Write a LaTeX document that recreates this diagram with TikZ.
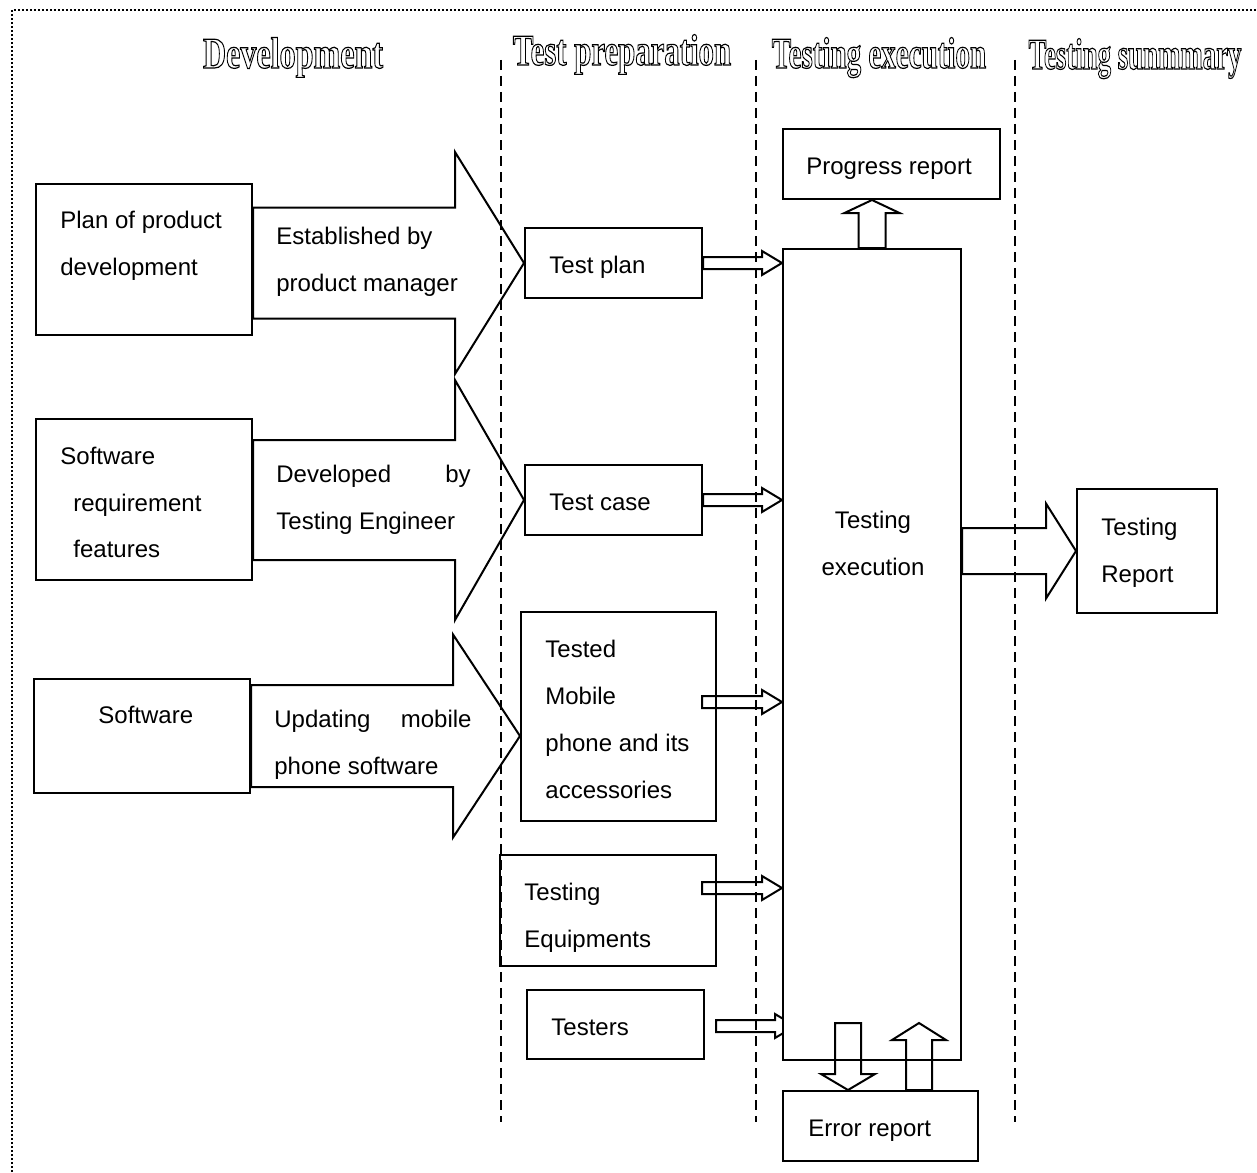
\documentclass[tikz,border=0pt]{standalone}
\usepackage{fontspec}
\setmainfont{Liberation Sans}
\newfontfamily\headfont{Liberation Serif Bold}
\usetikzlibrary{calc,fit}
\newcommand{\hd}[2]{\scalebox{#1}[1]{\special{pdf:literal direct 1 Tr 0.6 w}#2\special{pdf:literal direct 0 Tr}}}
% horizontal block arrow: start x from #2, tip #3, shaft half #4, head half #5, head length #6
\newcommand{\harrow}[6][]{%
  \draw[barrow,#1] let \p1=(#2), \p2=(#3) in
    (\x1,{\y2+#4}) -- ({\x2-#6},{\y2+#4}) -- ({\x2-#6},{\y2+#5}) -- (\x2,\y2)
    -- ({\x2-#6},{\y2-#5}) -- ({\x2-#6},{\y2-#4}) -- (\x1,{\y2-#4}) -- cycle;}
% vertical block arrow: start y from #2, tip #3
\newcommand{\varrow}[6][]{%
  \draw[barrow,#1] let \p1=(#2), \p2=(#3), \n1={sign(\y2-\y1)} in
    ({\x2+#4},\y1) -- ({\x2+#4},{\y2-\n1*#6}) -- ({\x2+#5},{\y2-\n1*#6}) -- (\x2,\y2)
    -- ({\x2-#5},{\y2-\n1*#6}) -- ({\x2-#4},{\y2-\n1*#6}) -- ({\x2-#4},\y1) -- cycle;}
\tikzset{
  box/.style={draw, line width=1pt, inner sep=0pt, rectangle},
  txt/.style={inner sep=0pt, font=\fontsize{12}{14}\selectfont, anchor=base west},
  txtc/.style={txt, anchor=base},
  txte/.style={txt, anchor=base east},
  head/.style={inner sep=0pt, anchor=base, font=\fontsize{22}{26}\headfont},
  lane/.style={line width=0.6pt, dash pattern=on 5pt off 3pt},
  frame/.style={line width=0.8pt, dash pattern=on 0.8pt off 1.2pt},
  barrow/.style={draw, line width=1pt, line join=miter},
}
\begin{document}
\begin{tikzpicture}[x=0.5pt,y=-0.5pt]
\useasboundingbox (0,0) rectangle (1257,1172);
\draw[frame] (12,1172) -- (12,10) -- (1257,10);
\foreach \x in {501,756,1015} \draw[lane] (\x,60) -- (\x,1122);

% headers
\node[head] (hdev) at (293,68) {\hd{0.73}{Development}};
\node[head] (hprep) at (622,65) {\hd{0.70}{Test preparation}};
\node[head] (hexec) at (879,68) {\hd{0.66}{Testing execution}};
\node[head] (hsum) at (1135,69) {\hd{0.61}{Testing sunmmary}};

% boxes
\node[box, fit={(36,184) (252,335)}] (b1) {};
\node[box, fit={(36,419) (252,580)}] (b2) {};
\node[box, fit={(34,679) (250,793)}] (b3) {};
\node[box, fit={(525,228) (702,298)}] (tp) {};
\node[box, fit={(525,465) (702,535)}] (tc) {};
\node[box, fit={(521,612) (716,821)}] (tm) {};
\node[box, fit={(500,855) (716,966)}] (te) {};
\node[box, fit={(527,990) (704,1059)}] (ts) {};
\node[box, fit={(783,129) (1000,199)}] (pr) {};
\node[box, fit={(783,1091) (978,1161)}] (er) {};
\node[box, fit={(1077,489) (1217,613)}] (tr) {};

% testers arrow (partly hidden behind the execution box)
\coordinate (tsS) at (716,1026);
\coordinate (tsT) at (795,1026);
\harrow{tsS}{tsT}{3pt}{6pt}{10pt}

\node[box, fill=white, fit={(783,249) (961,1060)}] (big) {};

% big block arrows
\harrow{b1.east}{tp.west}{27.75pt}{55.5pt}{34.5pt}
\harrow{b2.east}{tc.west}{30pt}{60pt}{34.5pt}
\harrow{b3.east}{tm.west |- b3.east}{25.5pt}{50.75pt}{33.5pt}

% small arrows into execution
\coordinate (tmS) at (702,702);
\coordinate (teS) at (702,888);
\harrow{tp.east}{big.west |- tp.east}{3pt}{6pt}{10pt}
\harrow{tc.east}{big.west |- tc.east}{3pt}{6pt}{10pt}
\harrow{tmS}{big.west |- tmS}{3pt}{6pt}{10pt}
\harrow{teS}{big.west |- teS}{3pt}{6pt}{10pt}

% output arrows
\harrow{big.east}{tr.west}{11.5pt}{23.75pt}{15pt}
\varrow{big.north}{big.north |- pr.south}{6.75pt}{13.75pt}{6.5pt}
\coordinate (dS) at (848,1023);
\coordinate (uT) at (919,1023);
\varrow{dS}{dS |- er.north}{6.5pt}{13.5pt}{8pt}
\varrow{uT |- er.north}{uT}{6.5pt}{13.5pt}{8.5pt}

% texts
\node[txt] (b1a) at (60,228) {Plan of product};
\node[txt] (b1b) at (60,275) {development};
\node[txt] (a1a) at (276,244) {Established by};
\node[txt] (a1b) at (276,291) {product manager};
\node[txt] (b2a) at (60,464) {Software};
\node[txt] (b2b) at (73,511) {requirement};
\node[txt] (b2c) at (73,557) {features};
\node[txt] (a2a) at (276,482) {Developed};
\node[txte] (a2b) at (471,482) {by};
\node[txt] (a2c) at (276,529) {Testing Engineer};
\node[txt] (b3a) at (98,723) {Software};
\node[txt] (a3a) at (274,727) {Updating};
\node[txte] (a3b) at (472,727) {mobile};
\node[txt] (a3c) at (274,774) {phone software};
\node[txt] (tpa) at (549,273) {Test plan};
\node[txt] (tca) at (549,510) {Test case};
\node[txt] (tma) at (545,657) {Tested};
\node[txt] (tmb) at (545,704) {Mobile};
\node[txt] (tmc) at (545,751) {phone and its};
\node[txt] (tmd) at (545,798) {accessories};
\node[txt] (tea) at (524,900) {Testing};
\node[txt] (teb) at (524,947) {Equipments};
\node[txt] (tsa) at (551,1035) {Testers};
\node[txtc] (bga) at (873,528) {Testing};
\node[txtc] (bgb) at (873,575) {execution};
\node[txtc] (pra) at (889,174) {Progress report};
\node[txt] (era) at (808,1136) {Error report};
\node[txt] (tra) at (1101,535) {Testing};
\node[txt] (trb) at (1101,582) {Report};
\end{tikzpicture}
\end{document}
